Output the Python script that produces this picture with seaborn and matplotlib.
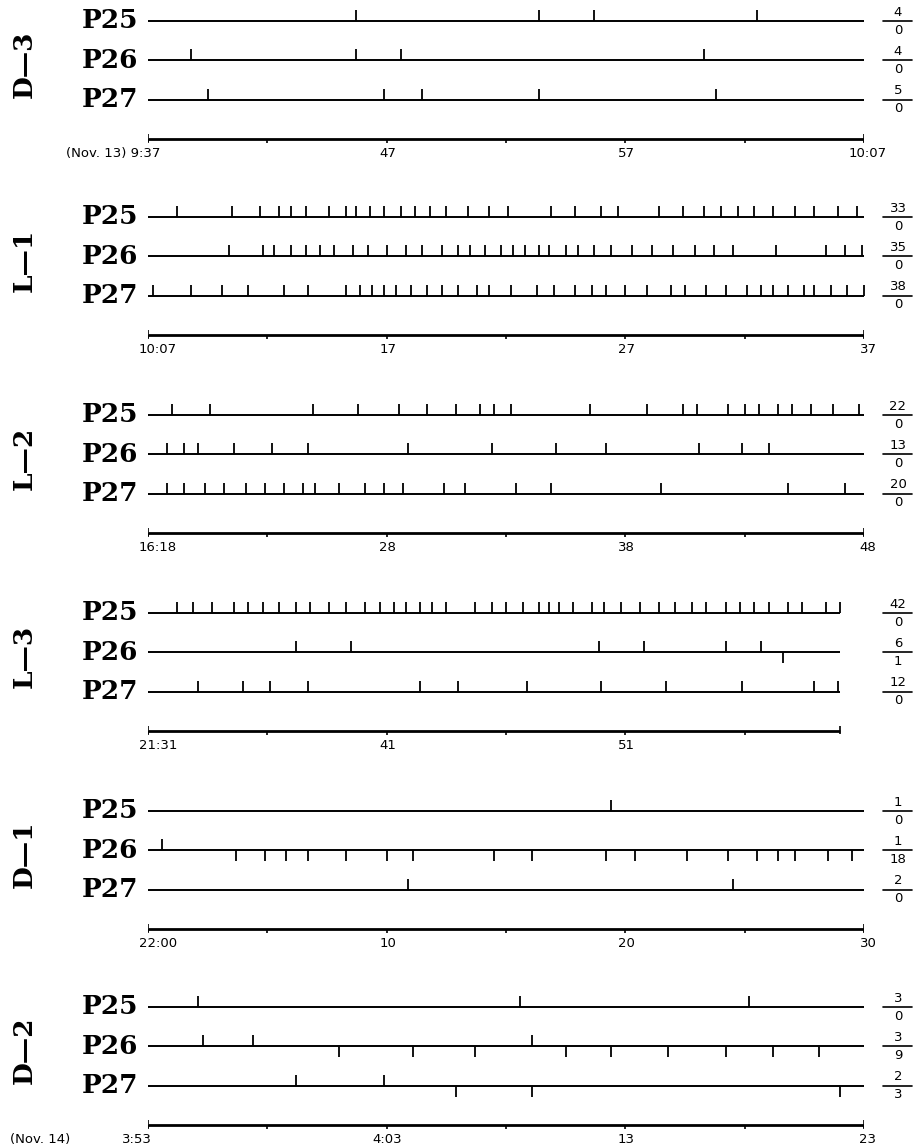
import numpy as np
import pandas as pd
import matplotlib
matplotlib.use('Agg')
import matplotlib.pyplot as plt
from matplotlib.path import Path
import seaborn as sns

sns.set_style('white')
plt.rcParams['font.family'] = ['DejaVu Sans']
plt.rcParams['text.color'] = 'black'

# ── data: event times in minutes after the panel start (P25, P26, P27) ───────
ROWS = ['P25', 'P26', 'P27']
PANELS = ['D—3', 'L—1', 'L—2', 'L—3', 'D—1', 'D—2']
DURATION = [30, 30, 30, 29, 30, 30]

D3_UP = [[8.7, 16.4, 18.7, 25.5],
         [1.8, 8.7, 10.6, 23.3],
         [2.5, 9.9, 11.5, 16.4, 23.8]]
D3_DOWN = [[], [], []]
D3_COUNTS = [(4, 0), (4, 0), (5, 0)]
D3_LABELS = ['(Nov. 13) 9:37', '47', '57', '10:07']

L1_UP = [[1.2, 3.5, 4.7, 5.5, 6.0, 6.6, 7.6, 8.3, 8.7, 9.3, 9.9, 10.6, 11.2, 11.8,
          12.5, 13.4, 14.3, 15.1, 16.9, 17.9, 19.0, 19.7, 21.4, 22.4, 23.3, 24.0,
          24.7, 25.4, 26.2, 27.1, 27.9, 28.9, 29.7],
         [3.4, 4.8, 5.3, 6.0, 6.6, 7.2, 7.8, 8.6, 9.2, 10.0, 10.8, 11.5, 12.3, 13.0,
          13.5, 14.1, 14.8, 15.3, 15.8, 16.4, 16.8, 17.5, 18.0, 18.7, 19.4, 20.3,
          21.1, 22.0, 22.9, 23.7, 24.5, 26.3, 28.4, 29.2, 29.9],
         [0.2, 1.8, 3.1, 4.2, 5.7, 6.7, 8.3, 8.9, 9.4, 9.9, 10.4, 11.0, 11.7, 12.3,
          13.0, 13.8, 14.3, 15.2, 16.3, 17.0, 17.9, 18.6, 19.2, 20.0, 20.9, 21.9,
          22.5, 23.4, 24.2, 25.1, 25.7, 26.2, 26.8, 27.5, 27.9, 28.6, 29.3, 30.0]]
L1_DOWN = [[], [], []]
L1_COUNTS = [(33, 0), (35, 0), (38, 0)]
L1_LABELS = ['10:07', '17', '27', '37']

L2_UP = [[1.0, 2.6, 6.9, 8.8, 10.5, 11.7, 12.9, 13.9, 14.5, 15.2, 18.5, 20.9,
          22.4, 23.0, 24.3, 25.0, 25.6, 26.4, 27.0, 27.8, 28.7, 29.8],
         [0.8, 1.5, 2.1, 3.6, 5.2, 6.7, 10.9, 14.4, 17.1, 19.2, 23.1, 24.9, 26.0],
         [0.8, 1.5, 2.4, 3.2, 4.1, 4.9, 5.7, 6.5, 7.0, 8.0, 9.1, 9.9, 10.7, 12.4,
          13.3, 15.4, 16.9, 21.5, 26.8, 29.2]]
L2_DOWN = [[], [], []]
L2_COUNTS = [(22, 0), (13, 0), (20, 0)]
L2_LABELS = ['16:18', '28', '38', '48']

L3_UP = [[1.2, 1.9, 2.7, 3.6, 4.2, 4.8, 5.5, 6.2, 6.8, 7.6, 8.3, 9.1, 9.7, 10.3,
          10.8, 11.4, 11.9, 12.5, 13.7, 14.4, 15.0, 15.7, 16.4, 16.8, 17.2, 17.8,
          18.6, 19.1, 19.8, 20.6, 21.4, 22.1, 22.8, 23.4, 24.2, 24.8, 25.4, 26.0,
          26.8, 27.4, 28.4, 29.0],
         [6.2, 8.5, 18.9, 20.8, 24.2, 25.7],
         [2.1, 4.0, 5.1, 6.7, 11.4, 13.0, 15.9, 19.0, 21.7, 24.9, 27.9, 28.9]]
L3_DOWN = [[], [26.6], []]
L3_COUNTS = [(42, 0), (6, 1), (12, 0)]
L3_LABELS = ['21:31', '41', '51']

D1_UP = [[19.4], [0.6], [10.9, 24.5]]
D1_DOWN = [[],
           [3.7, 4.9, 5.8, 6.7, 8.3, 10.0, 11.1, 14.5, 16.1, 19.2, 20.4, 22.6,
            24.3, 25.5, 26.4, 27.1, 28.5, 29.5],
           []]
D1_COUNTS = [(1, 0), (1, 18), (2, 0)]
D1_LABELS = ['22:00', '10', '20', '30']

D2_UP = [[2.1, 15.6, 25.2], [2.3, 4.4, 16.1], [6.2, 9.9]]
D2_DOWN = [[],
           [8.0, 11.1, 13.7, 17.5, 19.4, 21.8, 24.2, 26.2, 28.1],
           [12.9, 16.1, 29.0]]
D2_COUNTS = [(3, 0), (3, 9), (2, 3)]
D2_LABELS = ['3:53', '4:03', '13', '23']

UPS = [D3_UP, L1_UP, L2_UP, L3_UP, D1_UP, D2_UP]
DOWNS = [D3_DOWN, L1_DOWN, L2_DOWN, L3_DOWN, D1_DOWN, D2_DOWN]
COUNTS = [D3_COUNTS, L1_COUNTS, L2_COUNTS, L3_COUNTS, D1_COUNTS, D2_COUNTS]
LABELS = [D3_LABELS, L1_LABELS, L2_LABELS, L3_LABELS, D1_LABELS, D2_LABELS]

# ── layout (pixels) ──────────────────────────────────────────────────────────
W, H = 916, 1148
X0, X1 = 148, 864
ROW_PX = 39.3
TOPS = [21, 217, 415, 613, 811, 1007]
PPM = (X1 - X0) / 30.0

MARKERS = {'up': Path([(0, 0), (0, 1)]), 'down': Path([(0, 0), (0, -1)])}
SERIF = dict(family='DejaVu Serif', fontweight='bold', fontsize=19, color='black')
SMALL = dict(fontsize=9.5, color='black')

fig = plt.figure(figsize=(W / 100, H / 100), dpi=100)

for i, name in enumerate(PANELS):
    top = TOPS[i] - 0.5 * ROW_PX
    h = 4 * ROW_PX
    ax = fig.add_axes([X0 / W, 1 - (top + h) / H, (X1 - X0) / W, h / H])
    dur = DURATION[i]

    recs = []
    for r in range(3):
        recs += [(t, r, 'up') for t in UPS[i][r]]
        recs += [(t, r, 'down') for t in DOWNS[i][r]]
    df = pd.DataFrame(recs, columns=['t', 'row', 'kind'])

    # channel base lines
    ax.hlines([0, 1, 2], 0, dur, color='black', lw=1.4)
    sns.scatterplot(data=df, x='t', y='row', style='kind', markers=MARKERS,
                    s=250, color='black', edgecolor='black', linewidth=1.3,
                    legend=False, ax=ax, clip_on=False)

    # time axis
    ax.hlines(3, 0, dur, color='black', lw=2)
    ticks = np.arange(0, dur + 0.01, 5)
    ax.vlines(ticks, 3, 3 + 4 / ROW_PX, color='black', lw=1.2)
    ax.vlines([0, dur], 3 - 5 / ROW_PX, 3 + 3 / ROW_PX, color='black', lw=1.2)

    lab = LABELS[i]
    ly = 3 + 15 / ROW_PX
    for k, txt in enumerate(lab):
        x = k * 10
        if k == 0:
            if name == 'D—3':
                ax.text(x + 12 / PPM, ly, txt, ha='right', va='center', **SMALL)
            elif name == 'D—2':
                ax.text(x + 4 / PPM, ly, txt, ha='right', va='center', **SMALL)
                ax.text(-138 / PPM, ly, '(Nov. 14)', ha='left', va='center', **SMALL)
            else:
                ax.text(x + 10 / PPM, ly, txt, ha='center', va='center', **SMALL)
        elif k == 3:
            ax.text(x + 4 / PPM, ly, txt, ha='center', va='center', **SMALL)
        else:
            ax.text(x + 1 / PPM, ly, txt, ha='center', va='center', **SMALL)

    # channel names and panel name
    for r, rn in enumerate(ROWS):
        ax.text(-10 / PPM, r, rn, ha='right', va='center', **SERIF)
    ax.text(-124 / PPM, 1 + 4 / ROW_PX, name, rotation=90, ha='center',
            va='center', **SERIF)

    # up / down counts
    fx = 30 + 34 / PPM
    for r, (nu, nd) in enumerate(COUNTS[i]):
        ax.plot([30 + 19 / PPM, 30 + 48 / PPM], [r, r], color='black', lw=1.2,
                clip_on=False)
        ax.text(fx, r - 9 / ROW_PX, str(nu), ha='center', va='center', **SMALL)
        ax.text(fx, r + 9 / ROW_PX, str(nd), ha='center', va='center', **SMALL)

    ax.set_xlim(0, 30)
    ax.set_ylim(3.5, -0.5)
    ax.axis('off')

fig.savefig('out.png', dpi=100, facecolor='white')
